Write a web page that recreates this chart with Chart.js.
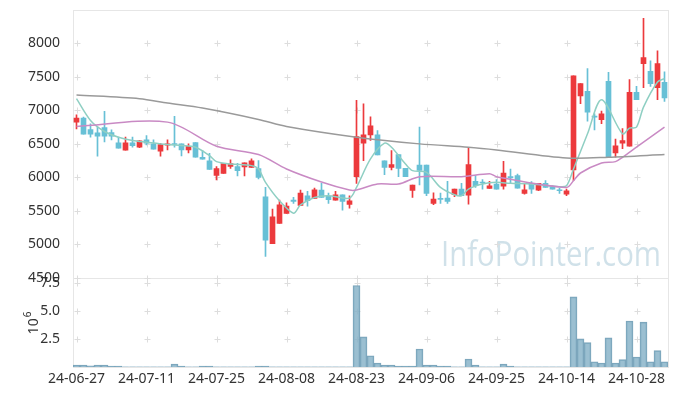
<!DOCTYPE html>
<html>
<head>
<meta charset="utf-8">
<script src="https://cdn.jsdelivr.net/npm/chart.js@4/dist/chart.umd.min.js"></script>
<style>
html, body { margin: 0; padding: 0; background: #fff; }
#wrap { width: 677px; height: 396px; }
</style>
</head>
<body>
<div id="wrap"><canvas id="chart"></canvas></div>
<script>
var dates = [
  "24-06-27","24-06-28",
  "24-07-01","24-07-02","24-07-03","24-07-04","24-07-05","24-07-08","24-07-09","24-07-10","24-07-11","24-07-12",
  "24-07-15","24-07-16","24-07-17","24-07-18","24-07-19","24-07-22","24-07-23","24-07-24","24-07-25","24-07-26",
  "24-07-29","24-07-30","24-07-31",
  "24-08-01","24-08-02","24-08-05","24-08-06","24-08-07","24-08-08","24-08-09","24-08-12","24-08-13","24-08-14",
  "24-08-16","24-08-19","24-08-20","24-08-21","24-08-22","24-08-23","24-08-26","24-08-27","24-08-28","24-08-29","24-08-30",
  "24-09-02","24-09-03","24-09-04","24-09-05","24-09-06","24-09-09","24-09-10","24-09-11","24-09-12","24-09-13",
  "24-09-19","24-09-20","24-09-23","24-09-24","24-09-25","24-09-26","24-09-27","24-09-30",
  "24-10-02","24-10-04","24-10-07","24-10-08","24-10-10","24-10-11","24-10-14","24-10-15","24-10-16","24-10-17","24-10-18",
  "24-10-21","24-10-22","24-10-23","24-10-24","24-10-25","24-10-28","24-10-29","24-10-30","24-10-31",
  "24-11-01"
];

var open  = [6825,6885,6715,6665,6745,6670,6515,6405,6515,6450, 6560,6500,6390,6480,6500,6500,6410,6520,6300,6245,
             6030,6060,6165,6160,6155,6150,6130,5710,5010,5310, 5460,5660,5580,5725,5685,5810,5715,5660,5740,5595,
             6010,6510,6635,6635,6245,6150,6340,6135,5805,6185, 6185,5610,5680,5690,5740,5825,5735,5940,5925,5835,
             5900,5870,6010,6025,5760,5910,5810,5910,5860,5805, 5750,6110,7215,7285,6905,6860,7435,6365,6510,6465,
             7270,7700,7585,7340,7420];
var high  = [6935,6900,6800,6750,6985,6710,6600,6600,6600,6550, 6625,6560,6510,6560,6910,6500,6500,6520,6400,6360,
             6160,6205,6260,6210,6215,6275,6250,5850,5525,5660, 5620,5700,5810,5790,5840,5910,5765,5790,5740,5725,
             7150,7100,6905,6700,6245,6400,6340,6135,5885,6750, 6185,5770,5765,5940,5825,5910,6450,6025,5965,5940,
             5965,6240,6125,6050,5910,5935,5910,5950,5875,5835, 5825,7515,7400,7625,6950,6990,7570,6570,6730,7460,
             7360,8375,7740,7890,7575];
var low   = [6725,6645,6600,6315,6530,6560,6435,6405,6450,6445, 6485,6420,6315,6410,6450,6320,6365,6300,6270,6120,
             5960,6060,6135,6020,6020,6150,5975,4820,5010,5310, 5460,5610,5580,5570,5685,5700,5610,5660,5510,5540,
             5910,6250,6550,6335,6040,6110,6010,6010,5700,5885, 5725,5590,5610,5610,5710,5725,5600,5850,5825,5835,
             5825,5825,5910,5840,5750,5760,5800,5850,5825,5760, 5725,5950,7100,6840,6710,6800,6300,6300,6430,6465,
             7160,7340,7360,7160,7135];
var close = [6885,6645,6645,6615,6615,6615,6435,6515,6475,6545, 6510,6420,6490,6500,6490,6410,6465,6300,6270,6120,
             6130,6205,6205,6100,6215,6245,6000,5060,5410,5590, 5570,5640,5765,5650,5815,5700,5665,5740,5640,5650,
             6610,6635,6770,6335,6150,6190,6135,6010,5885,6105, 5760,5675,5670,5640,5825,5725,6190,5875,5915,5875,
             5825,6065,5990,5840,5815,5825,5910,5850,5825,5800, 5800,7515,7400,6975,6900,6950,6300,6470,6550,7270,
             7160,7790,7400,7700,7185];

// volume in millions of shares
var volume = [0.18,0.18,0.10,0.18,0.18,0.08,0.08,0.01,0.01,0.01, 0.01,0.01,0.01,0.01,0.27,0.08,0.01,0.01,0.08,0.08,
              0.01,0.01,0.01,0.01,0.01,0.01,0.08,0.08,0.01,0.01, 0.01,0.01,0.01,0.01,0.01,0.01,0.01,0.01,0.01,0.01,
              7.26,2.68,1.00,0.36,0.18,0.18,0.08,0.08,0.08,1.60, 0.18,0.18,0.08,0.08,0.01,0.01,0.71,0.18,0.01,0.01,
              0.01,0.27,0.08,0.01,0.01,0.01,0.01,0.01,0.01,0.01, 0.01,6.25,2.50,2.17,0.47,0.36,2.59,0.36,0.65,4.10,
              0.89,4.00,0.47,1.46,0.47];

// moving averages: [day index, value]
var ma5 = [[0,7175],[2,6850],[4,6685],[6,6600],[8,6550],[10,6525],[13,6490],[15,6475],[17,6450],[19,6325],
           [20,6235],[22,6200],[25,6175],[26,6125],[27,5925],[29,5650],[31,5465],[32,5590],[34,5700],[36,5725],
           [39,5690],[40,5850],[42,6275],[44,6510],[45,6450],[47,6200],[48,6100],[50,6075],[52,5850],[54,5740],
           [55,5725],[56,5825],[58,5900],[60,5925],[62,5910],[65,5900],[69,5860],[70,5875],[71,6125],[73,6650],
           [75,7160],[78,6650],[79,6735],[80,6750],[81,7050],[83,7425],[84,7475]];
var ma20 = [[0,6760],[13,6825],[20,6465],[26,6340],[30,6125],[35,5930],[39,5810],[40,5810],[43,5900],[46,5900],
            [49,6010],[55,6010],[59,6055],[60,6010],[70,5850],[71,5950],[72,6065],[75,6215],[77,6235],[78,6300],
            [80,6450],[82,6600],[84,6750]];
var ma60 = [[0,7230],[9,7175],[13,7110],[18,7035],[26,6865],[30,6760],[40,6600],[49,6500],[56,6450],[60,6410],
            [70,6290],[76,6300],[84,6340]];

var upColor = "#ec3a3d";
var downColor = "#68c0d6";
var candleColors = open.map(function(o, i){ return close[i] >= o ? upColor : downColor; });

function toPoints(list){
  return list.map(function(p){ return { x: dates[p[0]], y: p[1] }; });
}

var panes = {
  id: "panes",
  beforeDatasetsDraw: function(chart){
    var ctx = chart.ctx, x = chart.scales.x, y = chart.scales.y, v = chart.scales.vol;
    ctx.save();
    // watermark
    ctx.fillStyle = "rgba(150,188,206,0.45)";
    ctx.font = "34px 'Open Sans'";
    ctx.textBaseline = "alphabetic";
    var txt = "InfoPointer.com";
    var w = ctx.measureText(txt).width;
    ctx.translate(441, 266);
    ctx.scale(220 / w, 1);
    ctx.fillText(txt, 0, 0);
    ctx.restore();

    ctx.save();
    ctx.strokeStyle = "#e6e6e6";
    ctx.lineWidth = 1;
    ctx.strokeRect(Math.round(x.left) + 0.5, Math.round(y.top) + 0.5, Math.round(x.right - x.left), Math.round(y.bottom - y.top));
    ctx.strokeRect(Math.round(x.left) + 0.5, Math.round(v.top) + 0.5, Math.round(x.right - x.left), Math.round(v.bottom - v.top));
    // grid crosses
    ctx.strokeStyle = "#dddddd";
    var xs = [];
    for (var i = 0; i < dates.length; i += 10) xs.push(Math.round(x.getPixelForValue(i)) + 0.5);
    var ys = [];
    y.ticks.forEach(function(t){ if (t.value < 8500) ys.push(Math.round(y.getPixelForValue(t.value)) + 0.5); });
    v.ticks.forEach(function(t){ ys.push(Math.round(v.getPixelForValue(t.value)) + 0.5); });
    ctx.beginPath();
    xs.forEach(function(px){
      ys.forEach(function(py){
        ctx.moveTo(px - 3, py); ctx.lineTo(px + 3, py);
        ctx.moveTo(px, py - 3); ctx.lineTo(px, py + 3);
      });
    });
    ctx.stroke();
    // volume axis title 10^6
    ctx.fillStyle = "#333";
    ctx.translate(38, (v.top + v.bottom) / 2 + 12);
    ctx.rotate(-Math.PI / 2);
    ctx.textBaseline = "alphabetic";
    ctx.font = "14px 'Noto Sans'";
    ctx.fillText("10", 0, 0);
    var tw = ctx.measureText("10").width;
    ctx.font = "10px 'Noto Sans'";
    ctx.fillText("6", tw + 1, -7);
    ctx.restore();
  }
};

function fixWidth(s){
  s.width = 73;
  s.paddingTop = 0;
  s.paddingBottom = 0;
}

new Chart(document.getElementById("chart"), {
  data: {
    labels: dates,
    datasets: [
      { type: "line", label: "MA60", data: toPoints(ma60), borderColor: "#9a9a9a", borderWidth: 1.5,
        pointRadius: 0, spanGaps: true, tension: 0.3, yAxisID: "y" },
      { type: "line", label: "MA20", data: toPoints(ma20), borderColor: "#c98ac4", borderWidth: 1.5,
        pointRadius: 0, spanGaps: true, tension: 0.3, yAxisID: "y" },
      { type: "line", label: "MA5", data: toPoints(ma5), borderColor: "#8fcfc3", borderWidth: 1.5,
        pointRadius: 0, spanGaps: true, tension: 0.3, yAxisID: "y" },
      { type: "bar", label: "wick", data: low.map(function(l, i){ return [l, high[i]]; }),
        backgroundColor: candleColors, barThickness: 1, grouped: false, yAxisID: "y" },
      { type: "bar", label: "body", data: open.map(function(o, i){ return [o, close[i]]; }),
        backgroundColor: candleColors, barThickness: 5, minBarLength: 1, grouped: false, yAxisID: "y" },
      { type: "bar", label: "volume", data: volume, backgroundColor: "rgba(130,175,198,0.8)",
        borderColor: "rgba(110,155,180,0.9)", borderWidth: 1, barPercentage: 1, categoryPercentage: 1,
        grouped: false, yAxisID: "vol" }
    ]
  },
  options: {
    responsive: true,
    maintainAspectRatio: false,
    animation: false,
    layout: { padding: { top: 10, right: 9, left: 0, bottom: 0 } },
    plugins: { legend: { display: false }, tooltip: { enabled: false } },
    scales: {
      x: {
        type: "category",
        offset: true,
        grid: { display: false },
        border: { display: false },
        ticks: {
          autoSkip: false, maxRotation: 0, minRotation: 0, color: "#333", padding: -4,
          font: { family: "'Noto Sans'", size: 14 },
          callback: function(v, i){ return i % 10 === 0 ? dates[i] : ""; }
        },
        afterFit: function(s){ s.height = 29; s.paddingLeft = 0; s.paddingRight = 0; }
      },
      vol: {
        stack: "main", stackWeight: 1, min: 0, max: 7.95,
        grid: { display: false }, border: { display: false },
        afterBuildTicks: function(s){ s.ticks = [{ value: 2.5 }, { value: 5 }, { value: 7.5 }]; },
        ticks: { color: "#333", padding: 5, font: { family: "'Noto Sans'", size: 14 },
          callback: function(v){ return v.toFixed(1); } },
        afterFit: fixWidth
      },
      y: {
        stack: "main", stackWeight: 3, min: 4500, max: 8500,
        grid: { display: false }, border: { display: false },
        ticks: { stepSize: 500, autoSkip: false, color: "#333", padding: 5, font: { family: "'Noto Sans'", size: 14 },
          callback: function(v){ return v >= 8500 ? "" : v; } },
        afterFit: fixWidth
      }
    }
  },
  plugins: [panes]
});
</script>
</body>
</html>
